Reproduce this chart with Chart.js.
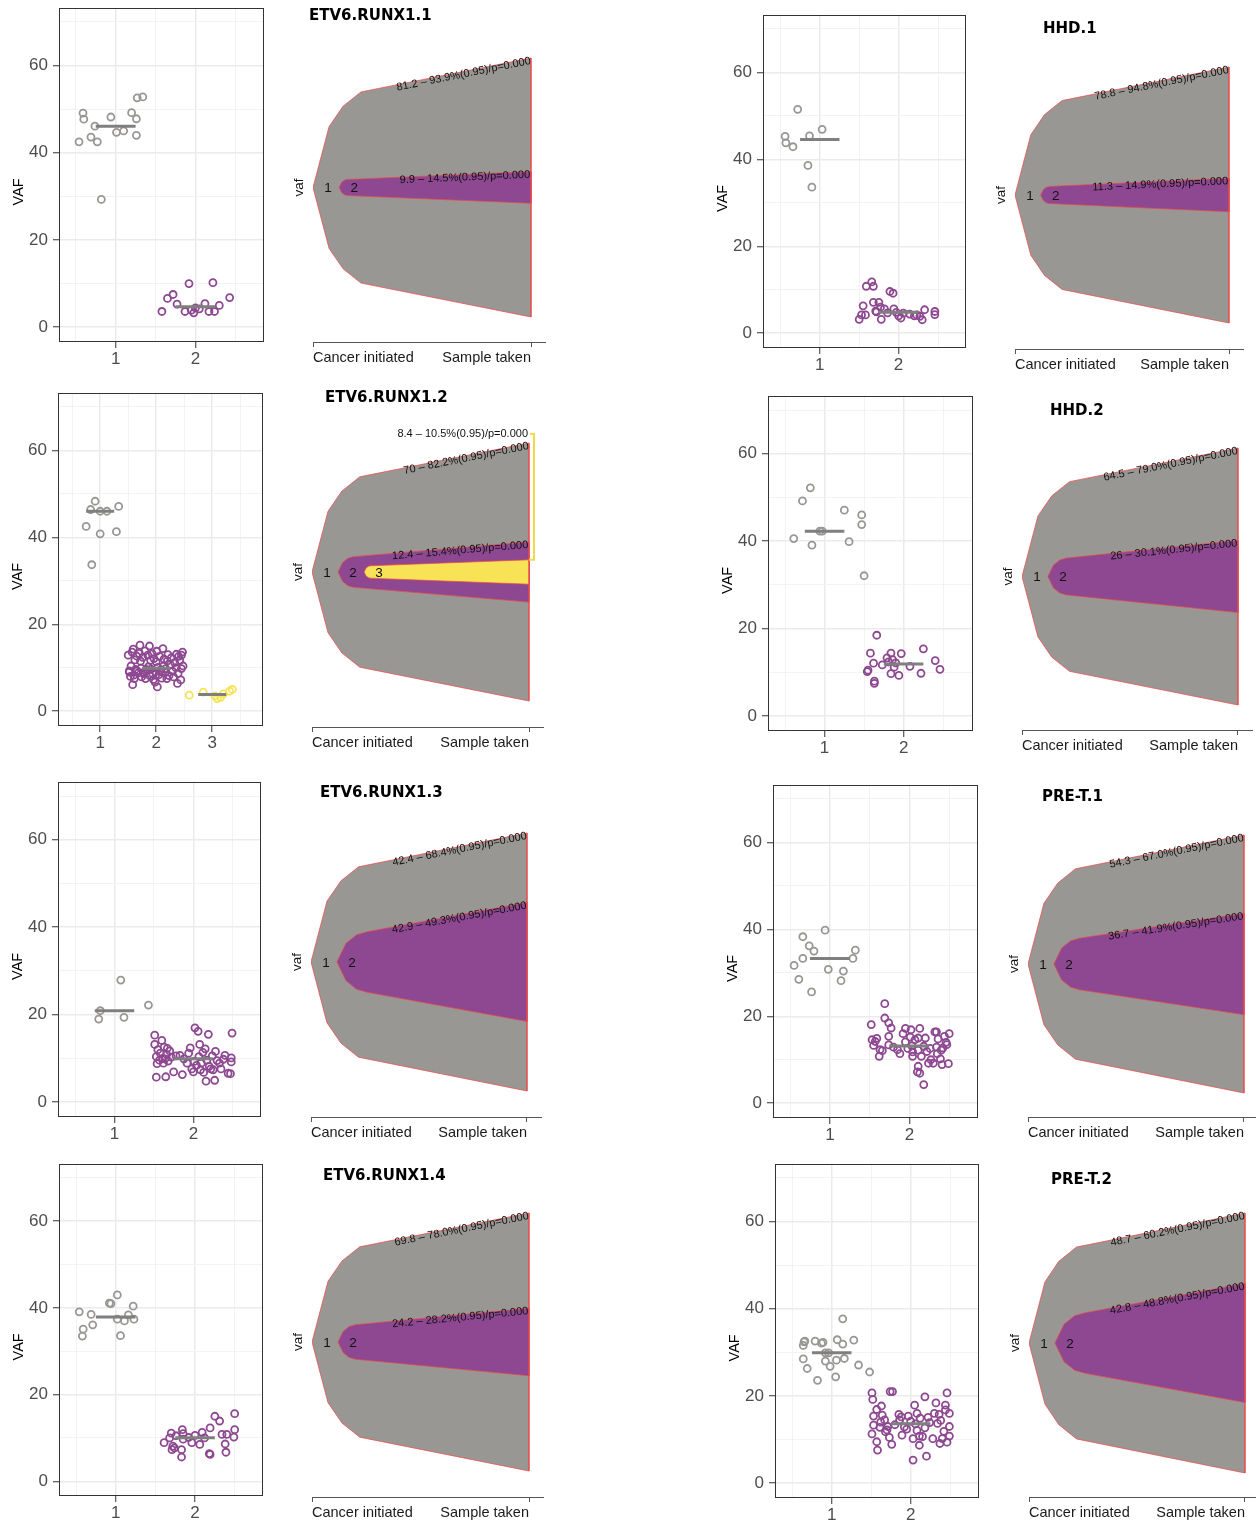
<!DOCTYPE html>
<html>
<head>
<meta charset="utf-8">
<title>Clonal evolution per sample</title>
<script src="https://cdn.jsdelivr.net/npm/chart.js@4.4.1/dist/chart.umd.min.js"></script>
<style>
  html, body { margin: 0; padding: 0; background: #ffffff; }
  #page { position: relative; width: 1256px; height: 1521px; overflow: hidden; background: #ffffff; }
  #page canvas { position: absolute; }
</style>
</head>
<body>
<div id="page"></div>
<script>
// ---------------- data ----------------
const sampleNames = ['ETV6.RUNX1.1', 'ETV6.RUNX1.2', 'ETV6.RUNX1.3', 'ETV6.RUNX1.4', 'HHD.1', 'HHD.2', 'PRE-T.1', 'PRE-T.2'];
const clusterLabels = ['1', '2', '3'];
const vafTicks = [0, 10, 20, 30, 40, 50, 60, 70];
const timelineLabels = ['Cancer initiated', 'Sample taken'];

// variants: [jittered cluster position, VAF]
const etv1Cluster1 = [[0.54,42.5],[0.59,49.1],[0.60,47.7],[0.74,46.1],[0.69,43.6],[0.77,42.5],[0.82,29.3],[0.94,48.2],[1.01,44.7],[1.10,45.0],[1.20,49.2],[1.26,47.8],[1.26,44.0],[1.27,52.6],[1.34,52.8]];
const etv1Cluster2 = [[1.58,3.6],[1.65,6.6],[1.72,7.5],[1.77,5.3],[1.87,3.6],[1.92,10.0],[1.98,3.3],[2.00,4.4],[2.12,5.4],[2.17,3.6],[2.22,10.2],[2.24,3.6],[2.30,5.0],[2.43,6.8],[1.95,3.9],[2.05,4.2]];

const etv2Cluster1 = [[0.75,42.5],[0.91,48.3],[0.83,46.4],[1.00,40.8],[0.85,33.7],[1.00,46.0],[1.12,46.0],[1.29,41.3],[1.33,47.1]];
const etv2Cluster2 = [[1.50,12.9],[1.52,9.3],[1.52,9.0],[1.54,8.0],[1.55,10.4],[1.57,13.6],[1.58,6.1],[1.59,14.3],[1.60,8.3],[1.61,7.5],
  [1.62,11.8],[1.63,9.6],[1.65,12.7],[1.66,9.3],[1.68,8.8],[1.70,13.3],[1.71,15.2],[1.72,11.5],[1.73,9.9],[1.74,7.9],
  [1.76,12.4],[1.77,8.9],[1.78,8.6],[1.80,13.9],[1.81,7.5],[1.82,9.6],[1.84,9.4],[1.85,12.9],[1.86,10.2],[1.88,15.0],
  [1.89,8.1],[1.90,11.7],[1.91,9.7],[1.93,13.2],[1.94,8.6],[1.95,7.3],[1.96,12.1],[1.98,6.7],[1.99,9.1],[2.00,11.4],
  [2.01,13.8],[2.02,5.6],[2.03,10.1],[2.05,8.4],[2.06,12.6],[2.08,9.5],[2.09,9.0],[2.10,7.6],[2.12,14.4],[2.13,10.4],
  [2.14,12.0],[2.16,8.9],[2.17,9.8],[2.19,7.5],[2.20,11.6],[2.21,13.0],[2.23,8.2],[2.25,10.7],[2.27,12.3],[2.29,9.2],
  [2.31,7.9],[2.33,11.2],[2.35,10.0],[2.36,13.1],[2.38,6.4],[2.39,8.7],[2.40,12.6],[2.42,11.7],[2.44,7.2],[2.45,9.8],
  [2.45,12.9],[2.47,13.6],[2.48,10.4]];
const etv2Cluster3 = [[2.59,3.7],[2.84,4.4],[3.05,3.5],[3.09,2.9],[3.15,3.2],[3.31,4.6],[3.36,5.0],[3.20,4.0]];

const etv3Cluster1 = [[0.80,19.0],[0.82,20.9],[1.08,27.9],[1.12,19.4],[1.43,22.2]];
const etv3Cluster2 = [[1.51,15.3],[1.51,13.2],[1.53,10.4],[1.54,8.8],[1.53,5.7],[1.55,12.0],[1.57,9.6],[1.58,11.2],[1.60,14.1],[1.61,10.0],
  [1.62,8.9],[1.63,12.6],[1.64,9.9],[1.65,5.8],[1.66,10.9],[1.67,12.3],[1.68,9.4],[1.70,11.7],[1.72,10.3],[1.75,6.9],
  [1.78,10.6],[1.83,10.7],[1.86,6.3],[1.88,9.9],[1.92,8.9],[1.94,11.2],[1.96,12.4],[1.98,7.6],[2.00,6.9],[2.01,9.3],
  [2.02,17.0],[2.04,8.4],[2.06,16.2],[2.07,10.4],[2.08,13.2],[2.09,7.4],[2.10,8.9],[2.12,11.4],[2.13,6.8],[2.15,12.2],
  [2.16,4.8],[2.17,9.6],[2.19,15.5],[2.20,8.2],[2.22,7.6],[2.24,10.6],[2.25,7.4],[2.27,5.0],[2.28,11.6],[2.30,9.5],
  [2.33,8.9],[2.35,7.6],[2.38,9.8],[2.40,10.7],[2.44,6.6],[2.47,6.5],[2.48,9.2],[2.48,10.1],[2.49,15.8]];

const etv4Cluster1 = [[0.54,39.1],[0.59,35.1],[0.58,33.5],[0.69,38.5],[0.71,36.1],[0.92,41.1],[0.94,41.0],[1.02,43.0],[1.02,37.4],[1.06,33.6],[1.11,37.0],[1.16,38.4],[1.22,40.4],[1.23,37.4]];
const etv4Cluster2 = [[1.61,8.9],[1.68,10.0],[1.70,11.1],[1.72,8.1],[1.71,7.3],[1.74,7.7],[1.84,11.9],[1.85,11.0],[1.83,7.3],[1.83,5.6],
  [1.85,9.7],[1.96,8.9],[2.00,10.6],[2.06,8.5],[2.09,11.3],[2.19,12.3],[2.18,6.4],[2.19,6.2],[2.25,15.0],[2.31,13.9],
  [2.34,10.8],[2.38,8.6],[2.39,6.7],[2.40,10.8],[2.50,15.6],[2.50,11.9],[2.49,10.2],[1.76,10.5],[1.92,10.1],[2.12,10.0]];

const hhd1Cluster1 = [[0.72,51.5],[0.56,45.3],[0.57,43.8],[0.66,42.9],[0.87,45.4],[0.85,38.6],[0.90,33.6],[1.03,46.9]];
const hhd1Cluster2 = [[1.50,3.2],[1.53,4.2],[1.55,6.3],[1.58,4.2],[1.59,10.8],[1.66,11.8],[1.68,10.8],[1.68,7.1],[1.75,7.1],[1.71,5.1],
  [1.77,6.0],[1.78,3.2],[1.82,5.6],[1.89,9.6],[1.93,9.2],[1.94,5.6],[1.97,4.8],[2.00,4.0],[2.03,3.5],[2.06,4.6],
  [2.23,4.2],[2.27,3.9],[2.30,3.1],[2.33,5.4],[2.46,5.0],[2.46,4.3],[1.72,4.9],[1.86,4.7],[2.14,4.4],[2.20,4.0]];

const hhd2Cluster1 = [[0.61,40.6],[0.72,49.2],[0.82,52.2],[0.84,39.1],[0.94,42.3],[0.97,42.3],[1.25,47.1],[1.31,39.9],[1.47,46.0],[1.47,43.8],[1.50,32.1]];
const hhd2Cluster2 = [[1.66,18.5],[1.58,14.4],[1.62,12.1],[1.54,10.2],[1.55,10.5],[1.63,8.0],[1.63,7.5],[1.73,11.7],[1.79,13.3],[1.84,14.4],
  [1.86,12.9],[1.88,11.2],[1.84,9.7],[1.94,9.3],[1.97,14.3],[2.08,11.4],[2.22,9.8],[2.25,15.4],[2.40,12.7],[2.46,10.7],
  [1.81,12.4],[1.90,12.2]];

const pret1Cluster1 = [[0.55,31.7],[0.61,28.5],[0.66,38.3],[0.66,33.3],[0.74,36.2],[0.77,25.6],[0.80,35.0],[0.94,39.8],[0.98,30.8],[1.14,28.2],[1.17,30.4],[1.29,33.3],[1.32,35.2]];
const pret1Cluster2 = [[1.69,22.9],[1.69,19.6],[1.74,18.5],[1.77,17.3],[1.52,18.1],[1.53,14.6],[1.59,14.9],[1.55,13.3],[1.63,12.3],[1.62,10.8],
  [1.74,15.4],[1.74,13.4],[1.88,11.4],[1.85,12.3],[1.92,16.0],[1.95,17.2],[1.95,14.1],[2.02,16.9],[2.01,15.2],[2.13,17.2],
  [2.11,15.0],[2.20,15.0],[2.03,13.2],[2.04,11.8],[2.04,10.8],[2.11,12.2],[2.10,7.2],[2.13,6.9],[2.11,8.5],[2.18,4.3],
  [2.15,10.8],[2.22,11.9],[2.24,9.2],[2.27,10.0],[2.30,9.2],[2.32,16.4],[2.34,16.4],[2.34,12.9],[2.35,11.4],[2.39,10.2],
  [2.40,12.2],[2.41,8.9],[2.44,15.4],[2.46,14.0],[2.49,9.1],[2.50,16.0],[2.47,13.5],[1.57,14.2],[1.66,12.1],[1.80,12.9],
  [1.98,12.6],[2.07,14.6],[2.18,13.1],[2.26,12.6],[2.36,14.8],[2.42,12.7]];

const pret2Cluster1 = [[0.64,31.6],[0.65,32.4],[0.66,32.6],[0.64,28.5],[0.69,26.3],[0.79,32.6],[0.82,23.6],[0.87,32.1],[0.89,32.3],[0.92,29.9],
  [0.96,29.9],[0.92,28.0],[0.98,26.8],[1.05,24.4],[1.06,28.2],[1.07,32.9],[1.14,31.9],[1.14,37.7],[1.16,28.6],[1.28,32.8],
  [1.34,27.1],[1.48,25.5]];
const pret2Cluster2 = [[1.51,20.7],[1.52,19.2],[1.63,17.7],[1.57,16.9],[1.53,15.4],[1.64,15.6],[1.53,13.3],[1.51,11.3],[1.61,12.8],[1.57,9.5],
  [1.58,7.6],[1.67,14.5],[1.68,11.8],[1.71,13.0],[1.73,10.5],[1.76,8.9],[1.74,21.0],[1.77,21.0],[1.85,15.8],[1.89,11.0],
  [1.86,14.5],[1.97,15.4],[2.03,5.3],[2.05,17.9],[2.03,10.2],[2.08,16.0],[2.11,8.7],[2.11,10.8],[2.15,10.7],[2.18,19.8],
  [2.20,6.2],[2.28,10.2],[2.30,16.0],[2.32,18.4],[2.34,13.7],[2.37,9.1],[2.40,10.2],[2.44,17.9],[2.44,16.8],[2.46,20.7],
  [2.46,9.4],[2.49,16.0],[2.49,13.0],[2.49,10.8],[2.36,15.8],[1.80,13.4],[1.92,12.9],[2.00,14.2],[2.06,13.6],[2.12,14.9],
  [2.18,12.7],[2.24,13.9],[2.22,15.1],[2.08,12.1],[1.95,12.4],[1.62,14.0],[1.70,12.2],[2.38,14.4],[2.42,11.9],[1.88,15.2]];

// cellular fraction intervals per clone (lower, upper), and clone parents (-1 = founding clone)
const etv1CcfLow = ['81.2', '9.9'];          const etv1CcfHigh = ['93.9', '14.5'];        const etv1Parents = [-1, 0];
const etv2CcfLow = ['70', '12.4', '8.4'];    const etv2CcfHigh = ['82.2', '15.4', '10.5']; const etv2Parents = [-1, 0, 1];
const etv3CcfLow = ['42.4', '42.9'];         const etv3CcfHigh = ['68.4', '49.3'];        const etv3Parents = [-1, 0];
const etv4CcfLow = ['69.8', '24.2'];         const etv4CcfHigh = ['78.0', '28.2'];        const etv4Parents = [-1, 0];
const hhd1CcfLow = ['78.8', '11.3'];         const hhd1CcfHigh = ['94.8', '14.9'];        const hhd1Parents = [-1, 0];
const hhd2CcfLow = ['64.5', '26'];           const hhd2CcfHigh = ['79.0', '30.1'];        const hhd2Parents = [-1, 0];
const pret1CcfLow = ['54.3', '36.7'];        const pret1CcfHigh = ['67.0', '41.9'];       const pret1Parents = [-1, 0];
const pret2CcfLow = ['48.7', '42.8'];        const pret2CcfHigh = ['60.2', '48.8'];       const pret2Parents = [-1, 0];

const sampleClusters = [
  [etv1Cluster1, etv1Cluster2], [etv2Cluster1, etv2Cluster2, etv2Cluster3], [etv3Cluster1, etv3Cluster2], [etv4Cluster1, etv4Cluster2],
  [hhd1Cluster1, hhd1Cluster2], [hhd2Cluster1, hhd2Cluster2], [pret1Cluster1, pret1Cluster2], [pret2Cluster1, pret2Cluster2]
];
const sampleCcfLow  = [etv1CcfLow, etv2CcfLow, etv3CcfLow, etv4CcfLow, hhd1CcfLow, hhd2CcfLow, pret1CcfLow, pret2CcfLow];
const sampleCcfHigh = [etv1CcfHigh, etv2CcfHigh, etv3CcfHigh, etv4CcfHigh, hhd1CcfHigh, hhd2CcfHigh, pret1CcfHigh, pret2CcfHigh];
const sampleParents = [etv1Parents, etv2Parents, etv3Parents, etv4Parents, hhd1Parents, hhd2Parents, pret1Parents, pret2Parents];

// ---------------- layout & style ----------------
const cloneColors = ['#999793', '#8d4891', '#f8e356'];
const SANS = '"Liberation Sans", Arial, Helvetica, sans-serif';
const frames = [
  { box: [59, 7, 264, 342],     xRange: [0.289, 2.861], fish: { tip: 313,  right: 531,  top: 58,   bottom: 317,  axis: 342,  titleX: 309,  titleY: 16 } },
  { box: [58, 392, 263, 726],   xRange: [0.247, 3.907], fish: { tip: 312,  right: 529,  top: 443,  bottom: 701,  axis: 727,  titleX: 325,  titleY: 398 }, topLabels: [2] },
  { box: [58, 781, 261, 1117],  xRange: [0.284, 2.857], fish: { tip: 311,  right: 527,  top: 833,  bottom: 1091, axis: 1117, titleX: 320,  titleY: 793 } },
  { box: [59, 1163, 263, 1496], xRange: [0.285, 2.857], fish: { tip: 312,  right: 529,  top: 1213, bottom: 1471, axis: 1497, titleX: 323,  titleY: 1176 } },
  { box: [763, 14, 966, 348],   xRange: [0.280, 2.855], fish: { tip: 1015, right: 1229, top: 67,   bottom: 323,  axis: 349,  titleX: 1043, titleY: 29 } },
  { box: [768, 395, 973, 731],  xRange: [0.284, 2.878], fish: { tip: 1022, right: 1238, top: 448,  bottom: 705,  axis: 730,  titleX: 1050, titleY: 411 } },
  { box: [773, 784, 978, 1118], xRange: [0.285, 2.862], fish: { tip: 1028, right: 1244, top: 835,  bottom: 1093, axis: 1117, titleX: 1042, titleY: 797 } },
  { box: [775, 1163, 979, 1498],xRange: [0.282, 2.865], fish: { tip: 1029, right: 1245, top: 1213, bottom: 1473, axis: 1497, titleX: 1051, titleY: 1180 } }
];
const VAF_MIN = -3.4, VAF_MAX = 73.25;

Chart.defaults.font.family = SANS;
Chart.defaults.animation = false;
Chart.defaults.responsive = false;
Chart.defaults.devicePixelRatio = 1;
Chart.defaults.events = [];
Chart.defaults.plugins.legend.display = false;
Chart.defaults.plugins.tooltip.enabled = false;

const page = document.getElementById('page');

function addCanvas(left, top, w, h) {
  const cv = document.createElement('canvas');
  cv.width = w; cv.height = h;
  cv.style.left = left + 'px'; cv.style.top = top + 'px';
  cv.style.width = w + 'px'; cv.style.height = h + 'px';
  page.appendChild(cv);
  return cv;
}

function median(values) {
  const s = values.slice().sort((a, b) => a - b);
  const n = s.length;
  return n % 2 ? s[(n - 1) / 2] : (s[n / 2 - 1] + s[n / 2]) / 2;
}

// ---------------- VAF jitter panel ----------------
function drawVafPanel(idx) {
  const fr = frames[idx];
  const [L, T, R, B] = fr.box;
  const yAxisW = 60, xAxisH = 32, padTop = 5, padRight = 6;
  const cv = addCanvas(L - yAxisW, T - padTop, (R - L) + yAxisW + padRight, (B - T) + padTop + xAxisH);
  const clusters = sampleClusters[idx];
  const xTicks = [];
  for (let v = 0.5; v <= clusters.length + 0.5; v += 0.5) xTicks.push(v);

  const datasets = [];
  clusters.forEach((pts, k) => {
    datasets.push({
      data: pts.map(([x, y]) => ({ x, y })),
      borderColor: cloneColors[k], backgroundColor: 'rgba(0,0,0,0)',
      pointRadius: 3.5, pointBorderWidth: 1.8, order: 2
    });
  });
  clusters.forEach((pts, k) => {
    const m = median(pts.map(p => p[1]));
    datasets.push({
      data: [{ x: k + 1 - 0.25, y: m }, { x: k + 1 + 0.25, y: m }],
      showLine: true, borderColor: '#7f7f7f', borderWidth: 3, borderCapStyle: 'butt',
      pointRadius: 0, order: 1
    });
  });

  const major = '#ebebeb', minor = '#f2f2f2';
  const panelFrame = {
    id: 'panelFrame',
    afterDraw(chart) {
      const { ctx, chartArea: a } = chart;
      ctx.save();
      ctx.strokeStyle = '#333333'; ctx.lineWidth = 1;
      ctx.strokeRect(Math.round(a.left) + 0.5, Math.round(a.top) + 0.5, Math.round(a.right - a.left) - 1, Math.round(a.bottom - a.top) - 1);
      ctx.translate(a.left - 40.5, (a.top + a.bottom) / 2 + 17);
      ctx.rotate(-Math.PI / 2);
      ctx.fillStyle = '#000000';
      ctx.font = '14.5px ' + SANS;
      ctx.textAlign = 'center'; ctx.textBaseline = 'middle';
      ctx.fillText('VAF', 0, 0);
      ctx.restore();
    }
  };

  new Chart(cv, {
    type: 'scatter',
    data: { datasets },
    options: {
      layout: { padding: { left: 0, top: padTop, right: padRight, bottom: 0 } },
      scales: {
        x: {
          type: 'linear', min: fr.xRange[0], max: fr.xRange[1],
          afterBuildTicks: s => { s.ticks = xTicks.map(v => ({ value: v })); },
          afterFit: s => { s.height = xAxisH; s.paddingLeft = 0; s.paddingRight = 0; },
          border: { display: false },
          grid: {
            color: c => Number.isInteger(c.tick.value) ? major : minor,
            lineWidth: c => Number.isInteger(c.tick.value) ? 1.5 : 0.9,
            tickColor: c => Number.isInteger(c.tick.value) ? '#333333' : 'rgba(0,0,0,0)',
            tickLength: 6, tickWidth: 1
          },
          ticks: {
            autoSkip: false, maxRotation: 0, padding: 1, color: '#4d4d4d',
            font: { size: 17, family: SANS },
            callback: v => Number.isInteger(v) ? clusterLabels[v - 1] : ''
          }
        },
        y: {
          type: 'linear', min: VAF_MIN, max: VAF_MAX,
          afterBuildTicks: s => { s.ticks = vafTicks.map(v => ({ value: v })); },
          afterFit: s => { s.width = yAxisW; s.paddingTop = 0; s.paddingBottom = 0; },
          border: { display: false },
          grid: {
            color: c => c.tick.value % 20 === 0 ? major : minor,
            lineWidth: c => c.tick.value % 20 === 0 ? 1.5 : 0.9,
            tickColor: c => c.tick.value % 20 === 0 ? '#333333' : 'rgba(0,0,0,0)',
            tickLength: 6, tickWidth: 1
          },
          ticks: {
            autoSkip: false, padding: 5, color: '#4d4d4d',
            font: { size: 17, family: SANS },
            callback: v => v % 20 === 0 ? String(v) : ''
          }
        }
      }
    },
    plugins: [panelFrame]
  });
}

// ---------------- clone bell plot ----------------
const ROOT_BELL_END = 0.22, ROOT_BELL_RATIO = 0.738;
const SUB_BELL_RATIO = 0.51, SUB_START_STEP = 0.12;
const rootProfile = [[0, 0], [0.335, 0.637], [0.627, 0.851], [1, 1]];
const subProfile = [[0, 0], [0.3, 0.62], [0.65, 0.9], [1, 1]];

function cloneShapes(lo, hi, parents, aspect) {
  const n = lo.length;
  const own = lo.map((v, i) => (parseFloat(v) + parseFloat(hi[i])) / 200);
  const depth = parents.map(p => { let d = 0, q = p; while (q >= 0) { d++; q = parents[q]; } return d; });
  const height = own.slice();
  for (let i = n - 1; i >= 0; i--) parents.forEach((p, j) => { if (p === i) height[i] += height[j]; });
  return height.map((hh, i) => {
    const isRoot = parents[i] < 0;
    const h = isRoot ? 0.5 : hh / 2;
    const x0 = depth[i] * SUB_START_STEP;
    const hb = h * (isRoot ? ROOT_BELL_RATIO : SUB_BELL_RATIO);
    const xb = isRoot ? ROOT_BELL_END : x0 + hb * aspect;
    const prof = isRoot ? rootProfile : subProfile;
    const top = prof.map(([u, v]) => ({ x: x0 + u * (xb - x0), y: v * hb }));
    top.push({ x: 1, y: h });
    const poly = top.concat(top.slice().reverse().map(p => ({ x: p.x, y: -p.y })));
    return { poly, x0, xb, hb, h, depth: depth[i], label: lo[i] + ' \u2013 ' + hi[i] + '%(0.95)/p=0.000' };
  });
}

function drawBellPanel(idx) {
  const f = frames[idx].fish;
  const topLabels = frames[idx].topLabels || [];
  const W = f.right - f.tip, H = f.bottom - f.top;
  const padL = 40, padR = 16, axisExt = 14, xAxisH = 30;
  const cl = f.tip - padL, ct = f.titleY - 16;
  const cw = W + padL + axisExt + padR, ch = f.axis + xAxisH - ct;
  const cv = addCanvas(cl, ct, cw, ch);
  const yMax = 0.5 + (f.top - ct) / H, yMin = -0.5 - (f.axis - f.bottom) / H;
  const xMax = 1 + axisExt / W;
  const shapes = cloneShapes(sampleCcfLow[idx], sampleCcfHigh[idx], sampleParents[idx], H / W);

  const datasets = shapes.map((s, k) => ({
    data: s.poly, showLine: true, fill: 'shape',
    backgroundColor: cloneColors[k], borderColor: 'rgba(236,72,72,0.9)', borderWidth: 0.8,
    pointRadius: 0, order: -s.depth
  }));

  const bellText = {
    id: 'bellText',
    afterDatasetsDraw(chart) {
      const { ctx } = chart;
      const xs = chart.scales.x, ys = chart.scales.y;
      const cy = ys.getPixelForValue(0);
      ctx.save();
      // sample title
      ctx.fillStyle = '#000000';
      ctx.font = 'bold 15px "DejaVu Sans", Verdana, sans-serif';
      ctx.textAlign = 'left'; ctx.textBaseline = 'middle';
      ctx.fillText(sampleNames[idx], f.titleX - cl, f.titleY - ct);
      // y label
      ctx.save();
      ctx.translate(xs.getPixelForValue(0) - 14, cy);
      ctx.rotate(-Math.PI / 2);
      ctx.font = '13.5px ' + SANS; ctx.fillStyle = '#111111';
      ctx.textAlign = 'center';
      ctx.fillText('vaf', 0, 0);
      ctx.restore();
      // clone numbers
      ctx.font = '13.5px ' + SANS; ctx.fillStyle = '#111111'; ctx.textAlign = 'center';
      shapes.forEach((s, k) => ctx.fillText(clusterLabels[k], xs.getPixelForValue(s.x0) + 15, cy + 1));
      // cellular fraction labels along each clone's upper edge
      ctx.font = '11px ' + SANS;
      const rootTop = ys.getPixelForValue(shapes[0].h);
      shapes.forEach((s, k) => {
        const bx = xs.getPixelForValue(s.xb), by = ys.getPixelForValue(s.hb);
        const rx = xs.getPixelForValue(1), ry = ys.getPixelForValue(s.h);
        if (topLabels.includes(k)) {
          const ly = rootTop - 9;
          ctx.textAlign = 'right'; ctx.textBaseline = 'middle'; ctx.fillStyle = '#111111';
          ctx.fillText(s.label, rx - 1, ly);
          ctx.strokeStyle = '#f3d847'; ctx.lineWidth = 2;
          ctx.beginPath();
          ctx.moveTo(rx + 1, ly); ctx.lineTo(rx + 5, ly); ctx.lineTo(rx + 5, ry); ctx.lineTo(rx, ry);
          ctx.stroke();
        } else {
          ctx.save();
          ctx.translate(rx - 1, ry);
          ctx.rotate(Math.atan2(ry - by, rx - bx));
          ctx.textAlign = 'right'; ctx.textBaseline = 'middle'; ctx.fillStyle = '#111111';
          ctx.fillText(s.label, 0, 3);
          ctx.restore();
        }
      });
      ctx.restore();
    }
  };

  new Chart(cv, {
    type: 'scatter',
    data: { datasets },
    options: {
      layout: { padding: { left: padL, top: 0, right: padR, bottom: 0 } },
      scales: {
        x: {
          type: 'linear', min: 0, max: xMax,
          afterBuildTicks: s => { s.ticks = [{ value: 0 }, { value: 1 }]; },
          afterFit: s => { s.height = xAxisH; s.paddingLeft = 0; s.paddingRight = 0; },
          border: { display: true, color: '#555555', width: 1 },
          grid: { drawOnChartArea: false, drawTicks: true, tickLength: 5, tickColor: '#555555', tickWidth: 1 },
          ticks: {
            align: 'inner', autoSkip: false, maxRotation: 0, padding: 2, color: '#1a1a1a',
            font: { size: 14.5, family: SANS },
            callback: (v, i) => timelineLabels[i]
          }
        },
        y: { type: 'linear', display: false, min: yMin, max: yMax }
      }
    },
    plugins: [bellText]
  });
}

for (let i = 0; i < sampleNames.length; i++) {
  drawVafPanel(i);
  drawBellPanel(i);
}
</script>
</body>
</html>
